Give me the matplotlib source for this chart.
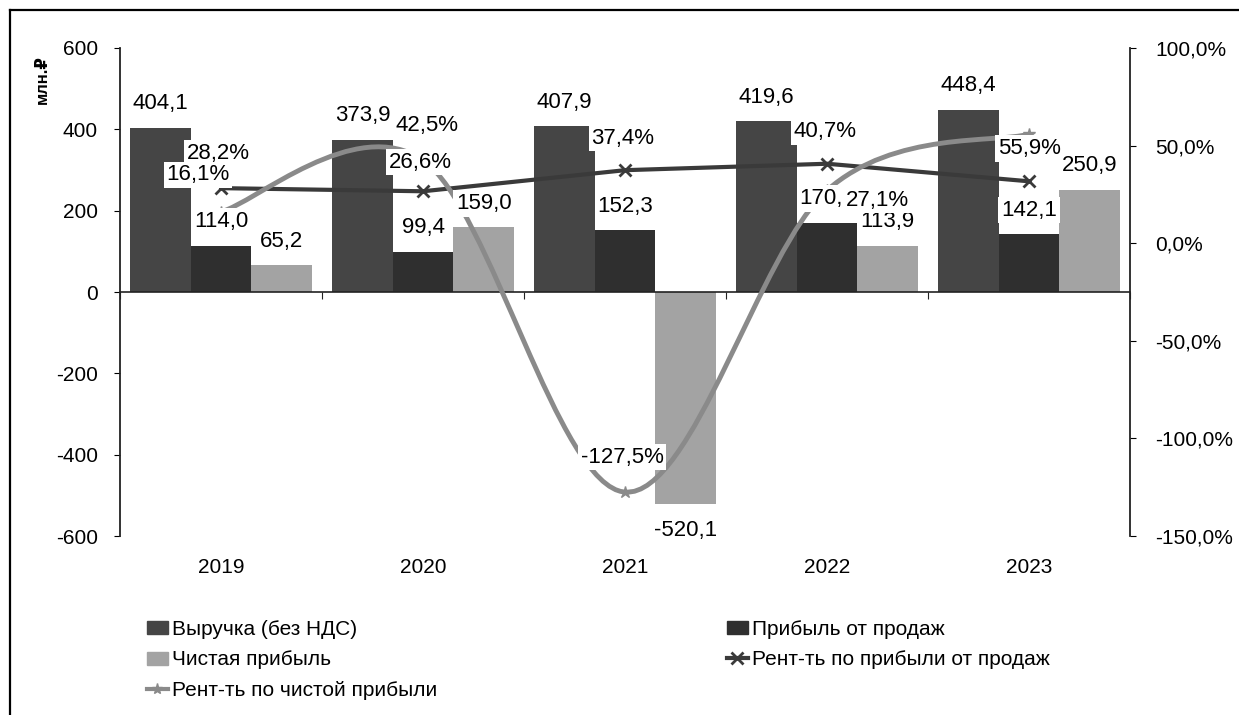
import numpy as np
import matplotlib.pyplot as plt
from matplotlib.path import Path
from matplotlib.patches import PathPatch, Patch
from matplotlib.lines import Line2D
from matplotlib.ticker import FuncFormatter, MultipleLocator

plt.rcParams["font.family"] = ["Liberation Sans", "DejaVu Sans"]
plt.rcParams["axes.unicode_minus"] = False

# ---------------------------
# Data
# ---------------------------

years = ["2019", "2020", "2021", "2022", "2023"]
revenue = [404.1, 373.9, 407.9, 419.6, 448.4]        # Выручка (без НДС)
sales_profit = [114.0, 99.4, 152.3, 170.8, 142.1]    # Прибыль от продаж
net_profit = [65.2, 159.0, -520.1, 113.9, 250.9]     # Чистая прибыль
sales_margin = [28.2, 26.6, 37.4, 40.7, 31.7]        # Рент-ть по прибыли от продаж, %
net_margin = [16.1, 42.5, -127.5, 27.1, 55.9]        # Рент-ть по чистой прибыли, %

# label offsets in pixels (dx, dy)
sales_lbl_off = [(-3, 35), (-3, 29), (-2, 32), (-2, 32), (0, 32)]
net_lbl_off = [(-23, 37), (4, 35), (-3, 35), (50, -10), (0, -14)]

c_rev = "#454545"
c_sales = "#2f2f2f"
c_net = "#a3a3a3"
c_line_sales = "#3a3a3a"
c_line_net = "#8a8a8a"


def fmt(v, pct=False):
    s = f"{v:.1f}".replace(".", ",")
    return s + "%" if pct else s


# ---------------------------
# Figure
# ---------------------------

fig = plt.figure(figsize=(12.39, 7.15), dpi=100)
fig.patch.set_facecolor("white")

ax = fig.add_axes([0.0969, 0.2503, 0.8152, 0.6826])
ax2 = ax.twinx()

x = np.arange(len(years))
w = 0.3

ax.bar(x - w, revenue, w, color=c_rev, zorder=2)
ax.bar(x, sales_profit, w, color=c_sales, zorder=2)
ax.bar(x + w, net_profit, w, color=c_net, zorder=2)

ax.set_xlim(-0.5, len(years) - 0.5)
ax.set_ylim(-600, 600)
ax.yaxis.set_major_locator(MultipleLocator(200))
ax2.set_ylim(-150, 100)
ax2.yaxis.set_major_locator(MultipleLocator(50))
ax2.yaxis.set_major_formatter(FuncFormatter(lambda v, p: fmt(v, True)))

# ---------------------------
# Lines
# ---------------------------

ax2.plot(x, sales_margin, color=c_line_sales, lw=3, marker="x",
         ms=9, mew=2, zorder=3)

# smoothed curve (Catmull-Rom style Bezier, like Excel "smoothed line")
pts = np.column_stack([x, net_margin]).astype(float)
ext = np.vstack([pts[0], pts, pts[-1]])
verts = [tuple(pts[0])]
codes = [Path.MOVETO]
for i in range(len(pts) - 1):
    p0, p1, p2, p3 = ext[i], ext[i + 1], ext[i + 2], ext[i + 3]
    c1 = p1 + (p2 - p0) / 6
    c2 = p2 - (p3 - p1) / 6
    verts += [tuple(c1), tuple(c2), tuple(p2)]
    codes += [Path.CURVE4] * 3
ax2.add_patch(PathPatch(Path(verts, codes), fc="none", ec=c_line_net,
                        lw=3.5, zorder=3))
ax2.plot(x, net_margin, ls="none", marker="*", ms=9, color=c_line_net,
         zorder=3)

# ---------------------------
# Labels
# ---------------------------

box = dict(boxstyle="square,pad=0.12", fc="white", ec="none")
lbl_kw = dict(textcoords="offset pixels", ha="center", va="center",
              fontsize=16, bbox=box)

for vals, off in [(revenue, -w), (sales_profit, 0), (net_profit, w)]:
    for i, v in enumerate(vals):
        dy = 24 if v >= 0 else -27
        ax2.annotate(fmt(v), xy=(x[i] + off, v), xycoords=ax.transData,
                     xytext=(0, dy), zorder=5, **lbl_kw)

for i, v in enumerate(sales_margin):
    ax2.annotate(fmt(v, True), xy=(x[i], v), xytext=sales_lbl_off[i],
                 zorder=6, **lbl_kw)

for i, v in enumerate(net_margin):
    ax2.annotate(fmt(v, True), xy=(x[i], v), xytext=net_lbl_off[i],
                 zorder=7, **lbl_kw)

# ---------------------------
# Axes styling
# ---------------------------

for s in ["top", "right"]:
    ax.spines[s].set_visible(False)
for s in ["top", "left", "bottom"]:
    ax2.spines[s].set_visible(False)
ax.spines["left"].set_color("#222222")
ax.spines["left"].set_linewidth(1.3)
ax2.spines["right"].set_color("#222222")
ax2.spines["right"].set_linewidth(1.3)

ax.spines["bottom"].set_position(("data", 0))
ax.spines["bottom"].set_color("#222222")
ax.spines["bottom"].set_linewidth(1.2)
ax.set_xticks(np.arange(-0.5, len(years), 1))
ax.set_xticklabels([])
ax.tick_params(axis="x", direction="out", length=5, color="#222222")

sec = ax.secondary_xaxis("bottom")
sec.set_xticks(x, years)
sec.tick_params(length=0, pad=16, labelsize=15)
sec.spines["bottom"].set_visible(False)

ax.tick_params(axis="y", direction="out", length=4, pad=12, labelsize=15)
ax2.tick_params(axis="y", direction="out", length=4, pad=14, labelsize=15)

fig.text(42 / 1239, 1 - 80 / 715, "млн.₽", rotation=90, fontweight="bold",
         fontsize=12, ha="center", va="center")

# ---------------------------
# Legend
# ---------------------------

h_rev = Patch(color=c_rev, label="Выручка (без НДС)")
h_sales = Patch(color=c_sales, label="Прибыль от продаж")
h_net = Patch(color=c_net, label="Чистая прибыль")
h_lsales = Line2D([], [], color=c_line_sales, lw=3, marker="x", ms=8, mew=2,
                  label="Рент-ть по прибыли от продаж")
h_lnet = Line2D([], [], color=c_line_net, lw=3, marker="*", ms=8,
                label="Рент-ть по чистой прибыли")

leg_kw = dict(loc="upper left", frameon=False, fontsize=15, borderpad=0,
              borderaxespad=0, handlelength=1.0, handleheight=0.6,
              handletextpad=0.2, labelspacing=0.55)
fig.legend(handles=[h_rev, h_net, h_lnet],
           bbox_to_anchor=(147 / 1239, 1 - 620 / 715), **leg_kw)
fig.legend(handles=[h_sales, h_lsales],
           bbox_to_anchor=(727 / 1239, 1 - 620 / 715), **leg_kw)

# page frame
fig.add_artist(Line2D([10 / 1239, 10 / 1239], [0, 1 - 10 / 715],
                      transform=fig.transFigure, color="black", lw=1.6))
fig.add_artist(Line2D([10 / 1239, 1], [1 - 10 / 715, 1 - 10 / 715],
                      transform=fig.transFigure, color="black", lw=1.6))

fig.savefig("out.png", dpi=100, facecolor="white")
plt.close(fig)
